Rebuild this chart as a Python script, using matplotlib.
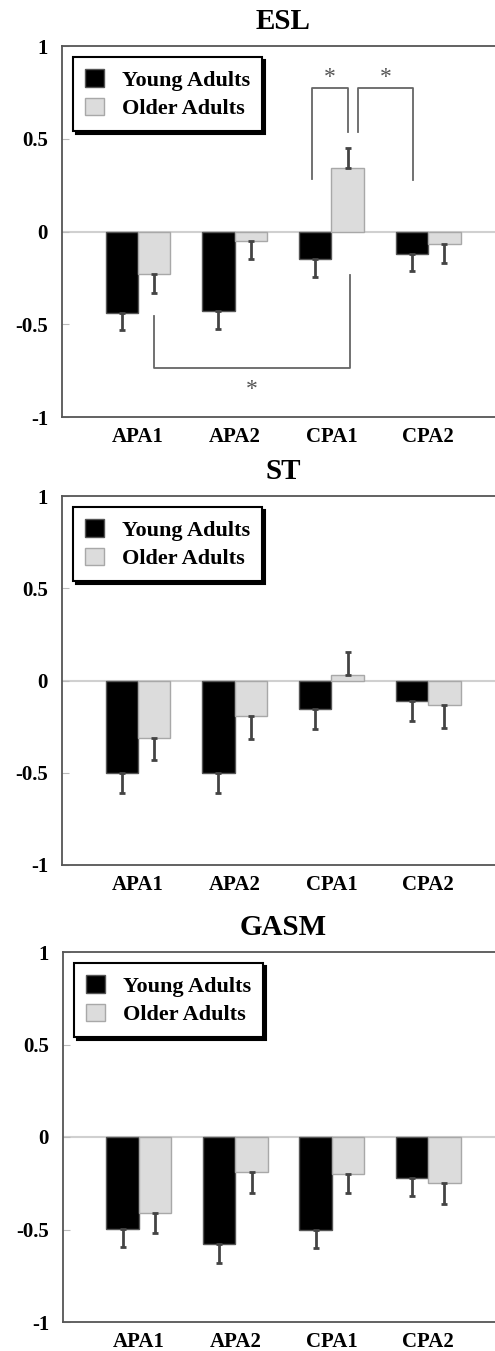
import matplotlib
matplotlib.use('Agg')
import matplotlib.pyplot as plt
import numpy as np

plt.rcParams['font.family'] = ['Liberation Serif', 'DejaVu Serif']
plt.rcParams['font.weight'] = 'bold'

categories = ['APA1', 'APA2', 'CPA1', 'CPA2']
groups = ['Young Adults', 'Older Adults']
panels = ['ESL', 'ST', 'GASM']

# mean values per panel
esl_young = [-0.44, -0.43, -0.15, -0.12]
esl_older = [-0.23, -0.05, 0.34, -0.07]
st_young = [-0.50, -0.50, -0.155, -0.11]
st_older = [-0.31, -0.195, 0.03, -0.135]
gasm_young = [-0.495, -0.58, -0.50, -0.22]
gasm_older = [-0.41, -0.19, -0.20, -0.25]

# one-sided error (away from zero)
esl_young_err = [0.09, 0.095, 0.095, 0.095]
esl_older_err = [0.10, 0.10, 0.11, 0.10]
st_young_err = [0.11, 0.11, 0.11, 0.11]
st_older_err = [0.12, 0.12, 0.125, 0.12]
gasm_young_err = [0.10, 0.10, 0.10, 0.10]
gasm_older_err = [0.11, 0.11, 0.105, 0.11]

yticks = [-1, -0.5, 0, 0.5, 1]
ytick_labels = ['-1', '-0.5', '0', '0.5', '1']

# significance brackets on ESL panel: (x1, x2, y_bar, y_leg1, y_leg2, star_y)
esl_brackets = [
    (1.80, 2.168, 0.775, 0.284, 0.536, 0.83),
    (2.27, 2.846, 0.775, 0.536, 0.275, 0.83),
    (0.165, 2.19, -0.737, -0.453, -0.237, -0.85),
]

data = {
    'ESL': (esl_young, esl_older, esl_young_err, esl_older_err),
    'ST': (st_young, st_older, st_young_err, st_older_err),
    'GASM': (gasm_young, gasm_older, gasm_young_err, gasm_older_err),
}

W, H = 495, 1351
fig = plt.figure(figsize=(W / 100, H / 100), dpi=100)

# axes boxes in pixels: left, top, bottom
boxes = [(62, 46, 417), (62, 496, 865), (63, 952, 1322)]
right_px = 504

colors = ['black', '#dcdcdc']
edges = ['#555555', '#a8a8a8']
bw = 0.336
x = np.arange(len(categories))

for name, (l, t, b) in zip(panels, boxes):
    ax = fig.add_axes([l / W, 1 - b / H, (right_px - l) / W, (b - t) / H])
    young, older, yerr, oerr = data[name]
    for i, (vals, errs) in enumerate([(young, yerr), (older, oerr)]):
        vals = np.array(vals)
        errs = np.array(errs)
        xs = x + (i - 0.5) * bw
        ax.bar(xs, vals, bw, color=colors[i], edgecolor=edges[i], linewidth=1,
               label=groups[i], zorder=2)
        lo = np.where(vals < 0, errs, 0)
        hi = np.where(vals >= 0, errs, 0)
        ax.errorbar(xs, vals, yerr=[lo, hi], fmt='none', ecolor='#444444',
                    elinewidth=2, capsize=2.5, capthick=2, zorder=3)
    ax.axhline(0, color='#d0d0d0', lw=1.5, zorder=1)

    if name == 'ESL':
        for x1, x2, yb, y1, y2, sy in esl_brackets:
            ax.plot([x1, x1, x2, x2], [y1, yb, yb, y2], color='#666666', lw=1.3, zorder=4)
            ax.text((x1 + x2) / 2, sy, '*', ha='center', va='center', fontsize=17,
                    color='#555555', fontweight='normal')

    ax.set_xlim(-0.786, 3.785)
    ax.set_ylim(-1, 1)
    ax.set_yticks(yticks)
    ax.set_yticklabels(ytick_labels)
    ax.set_xticks(x)
    ax.set_xticklabels(categories)
    ax.tick_params(axis='y', direction='in', length=5, color='#bbbbbb', labelsize=15, pad=10)
    ax.tick_params(axis='x', length=0, labelsize=15, pad=7)
    for s in ['left', 'top', 'bottom']:
        ax.spines[s].set_color('#555555')
        ax.spines[s].set_linewidth(1.3)
    ax.spines['right'].set_visible(False)
    ax.set_title(name, fontsize=21, fontweight='bold', pad=12)

    leg = ax.legend(loc='upper left', bbox_to_anchor=(0.025, 0.97), borderaxespad=0,
                    fontsize=16, frameon=True, fancybox=False,
                    shadow={'color': 'black', 'ox': 2, 'oy': -2, 'alpha': 1},
                    handlelength=0.85, handleheight=0.85, handletextpad=0.8,
                    borderpad=0.55, labelspacing=0.3)
    leg.get_frame().set_edgecolor('black')
    leg.get_frame().set_linewidth(1.5)

fig.savefig('out.png', dpi=100)
